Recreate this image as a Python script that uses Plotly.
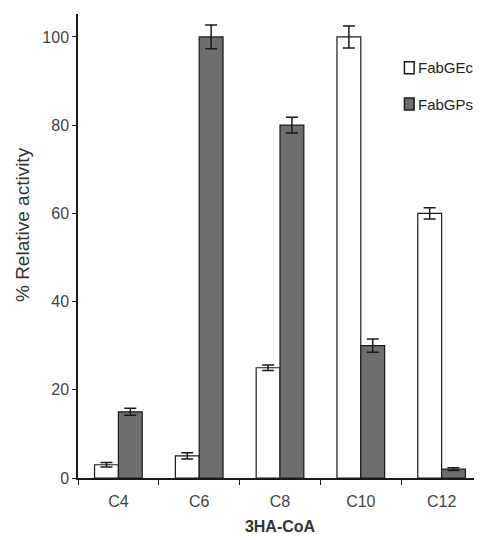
import plotly.graph_objects as go

categories = ["C4", "C6", "C8", "C10", "C12"]
fabgec = [3, 5, 25, 100, 60]
fabgec_err = [0.5, 0.7, 0.6, 2.5, 1.3]
fabgps = [15, 100, 80, 30, 2]
fabgps_err = [0.8, 2.7, 1.8, 1.5, 0.3]
y_ticks = [0, 20, 40, 60, 80, 100]
series_names = ["FabGEc", "FabGPs"]
series_colors = ["white", "#6e6e6e"]

FONT = "Liberation Sans, Arial, sans-serif"
EDGE = "#1a1a1a"

fig = go.Figure()
for name, vals, errs, col in zip(series_names, [fabgec, fabgps], [fabgec_err, fabgps_err], series_colors):
    fig.add_trace(go.Bar(
        name=name, x=categories, y=vals, showlegend=False,
        marker=dict(color=col, line=dict(color=EDGE, width=1.2)),
        error_y=dict(type="data", array=errs, color=EDGE, thickness=1.5, width=6),
    ))

# manual legend (symbol squares + labels), positioned in paper coordinates
legend_y = [0.884, 0.806]
for name, col, yc in zip(series_names, series_colors, legend_y):
    fig.add_shape(type="rect", xref="paper", yref="paper",
                  x0=0.808, x1=0.832, y0=yc - 0.013, y1=yc + 0.013,
                  fillcolor=col, line=dict(color=EDGE, width=1.5))
    fig.add_annotation(text=name, xref="paper", yref="paper", x=0.837, y=yc,
                       xanchor="left", yanchor="middle", showarrow=False,
                       font=dict(family=FONT, size=15, color="#222222"))

# y-axis title (placed as rotated annotation, slightly above the axis centre as in the reference)
fig.add_annotation(text="% Relative activity", xref="paper", yref="paper",
                   x=-0.139, y=0.547, xanchor="center", yanchor="middle",
                   textangle=-90, showarrow=False,
                   font=dict(family=FONT, size=19, color="#333333"))

# the page body has an 8px margin, so the figure is 8px smaller than the window
fig.update_layout(
    width=474, height=532,
    margin=dict(l=70, r=0, t=6, b=62),
    paper_bgcolor="white", plot_bgcolor="white",
    barmode="group", bargap=0.41, bargroupgap=0,
    font=dict(family=FONT, size=16, color="#333333"),
    showlegend=False,
)
fig.update_xaxes(
    showline=True, linecolor=EDGE, linewidth=1.5, automargin=False,
    ticks="outside", tickson="boundaries", ticklen=5, tickcolor=EDGE,
    ticklabelstandoff=8,
    showgrid=False, tickfont=dict(size=16, color="#444444"),
    title=dict(text="<b>3HA-CoA</b>", font=dict(size=16, color="#333333"), standoff=12),
)
fig.update_yaxes(
    range=[0, 105.2], showline=True, linecolor=EDGE, linewidth=1.5, automargin=False,
    ticks="outside", ticklen=4, tickcolor=EDGE, tickvals=y_ticks,
    showgrid=False, zeroline=False, tickfont=dict(size=16, color="#444444"),
)

fig.write_html("out.html")
